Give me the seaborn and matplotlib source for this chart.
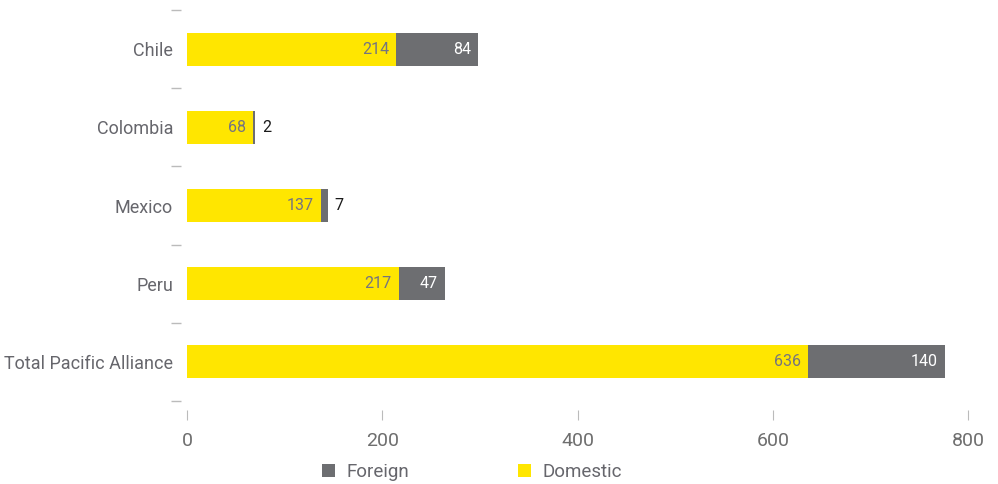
import matplotlib
matplotlib.use("Agg")
import matplotlib.pyplot as plt
import matplotlib.transforms as mtransforms
from matplotlib.patches import Patch
import seaborn as sns
import pandas as pd

# Data
countries = ["Chile", "Colombia", "Mexico", "Peru", "Total Pacific Alliance"]
domestic = [214, 68, 137, 217, 636]
foreign = [84, 2, 7, 47, 140]
x_ticks = [0, 200, 400, 600, 800]

YELLOW = "#FFE600"
GREY = "#6D6E71"
TEXT_GREY = "#66666C"

sns.set_theme(style="white")
plt.rcParams["font.family"] = ["Roboto", "DejaVu Sans"]

df = pd.DataFrame({
    "country": countries,
    "domestic": domestic,
    "foreign": foreign,
})
df["total"] = df["domestic"] + df["foreign"]

fig = plt.figure(figsize=(9.98, 4.84), dpi=100)
ax = fig.add_axes([187 / 998, 1 - 420 / 484, (968 - 187) / 998, (420 - 10) / 484])

bar_w = 0.42
sns.barplot(data=df, x="total", y="country", orient="h", color=GREY,
            width=bar_w, saturation=1, ax=ax, linewidth=0)
sns.barplot(data=df, x="domestic", y="country", orient="h", color=YELLOW,
            width=bar_w, saturation=1, ax=ax, linewidth=0)

n = len(countries)
ax.set_xlim(0, 800)
ax.set_ylim(n - 0.5 + (420 - 401) / 78.25, -0.5)

# Value labels
for i, (d, f) in enumerate(zip(domestic, foreign)):
    ax.annotate(str(d), xy=(d, i), xytext=(-5, 0), textcoords="offset points",
                ha="right", va="center", fontsize=11.5, color="#747480")
    if f >= 20:
        ax.annotate(str(f), xy=(d + f, i), xytext=(-5, 0), textcoords="offset points",
                    ha="right", va="center", fontsize=11.5, color="white")
    else:
        ax.annotate(str(f), xy=(d + f, i), xytext=(5, 0), textcoords="offset points",
                    ha="left", va="center", fontsize=11.5, color="#1a1a1a")

# Separator dashes between categories on the left
trans = mtransforms.blended_transform_factory(ax.transAxes, ax.transData)
sep_y = [k - 0.5 for k in range(n + 1)]
ax.plot([-11.5 / 781] * len(sep_y), sep_y, transform=trans, linestyle="none",
        marker="_", markersize=7, markeredgewidth=1, color="#BBBBBB", clip_on=False)

for s in ax.spines.values():
    s.set_visible(False)

ax.set_xticks(x_ticks)
ax.set_xticklabels([str(t) for t in x_ticks])
ax.tick_params(axis="x", direction="in", length=7, width=0.8, color="#BBBBBB",
               pad=9, labelsize=14, labelcolor="#6E6E6E", bottom=True)
ax.tick_params(axis="y", length=0, pad=10, labelsize=13, labelcolor=TEXT_GREY)
ax.set_xlabel("")
ax.set_ylabel("")

handles = [Patch(facecolor=GREY, edgecolor="none", label="Foreign"),
           Patch(facecolor=YELLOW, edgecolor="none", label="Domestic")]
leg = fig.legend(handles=handles, loc="center", ncol=2, frameon=False,
                 bbox_to_anchor=(472 / 998, 1 - 472 / 484), fontsize=13.5,
                 handlelength=0.7, handleheight=0.7, handletextpad=0.6,
                 columnspacing=5.8)
for t in leg.get_texts():
    t.set_color(TEXT_GREY)

fig.savefig("out.png", dpi=100)
